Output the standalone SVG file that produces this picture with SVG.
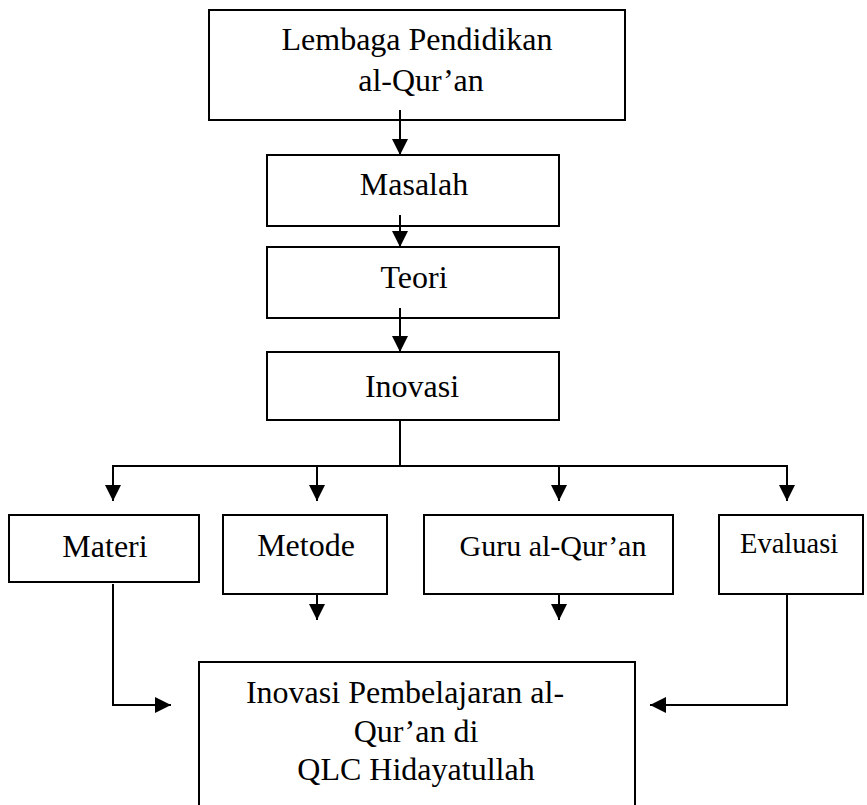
<svg xmlns="http://www.w3.org/2000/svg" width="867" height="805" viewBox="0 0 867 805">
<style>
.box{fill:#fff;stroke:#000;stroke-width:2}
.t{font-family:"Liberation Serif","Times New Roman",serif;font-size:32px;fill:#000}
.m{text-anchor:middle}
.c{fill:none;stroke:#000;stroke-width:2}
</style>
<defs>
<marker id="ah" markerUnits="userSpaceOnUse" markerWidth="16" markerHeight="16" viewBox="0 0 10 10" refX="10" refY="5" orient="auto">
<path d="M0,0 L10,5 L0,10 z" fill="#000"/>
</marker>
</defs>
<rect width="867" height="805" fill="#fff"/>
<g id="lembaga">
<rect class="box" x="209" y="10" width="416" height="110"/>
<text class="t m" x="417" y="50">Lembaga Pendidikan</text>
<text class="t m" x="421" y="91">al-Qur’an</text>
</g>
<g id="masalah">
<rect class="box" x="267" y="155" width="292" height="71"/>
<text class="t m" x="414" y="195">Masalah</text>
</g>
<g id="teori">
<rect class="box" x="267" y="247" width="292" height="71"/>
<text class="t m" x="414" y="288">Teori</text>
</g>
<g id="inovasi">
<rect class="box" x="267" y="352" width="292" height="68"/>
<text class="t m" x="412" y="397">Inovasi</text>
</g>
<g id="materi">
<rect class="box" x="9" y="515" width="190" height="67"/>
<text class="t m" x="105" y="557">Materi</text>
</g>
<g id="metode">
<rect class="box" x="223" y="515" width="164" height="79"/>
<text class="t m" x="306" y="556">Metode</text>
</g>
<g id="guru">
<rect class="box" x="424" y="515" width="249" height="79"/>
<text class="t m" x="553" y="556" style="font-size:30px">Guru al-Qur’an</text>
</g>
<g id="evaluasi">
<rect class="box" x="719" y="515" width="144" height="79"/>
<text class="t" x="740" y="553" style="font-size:28.5px">Evaluasi</text>
</g>
<g id="hasil">
<path class="c" d="M199,806 V662 H635 V806"/>
<text class="t m" x="405" y="703">Inovasi Pembelajaran al-</text>
<text class="t m" x="416" y="742">Qur’an di</text>
<text class="t m" x="416" y="780">QLC Hidayatullah</text>
</g>
<g id="connectors">
<line class="c" x1="400" y1="110" x2="400" y2="155" marker-end="url(#ah)"/>
<line class="c" x1="400" y1="215" x2="400" y2="247" marker-end="url(#ah)"/>
<line class="c" x1="400" y1="308" x2="400" y2="352" marker-end="url(#ah)"/>
<line class="c" x1="400" y1="420" x2="400" y2="466"/>
<line class="c" x1="112" y1="466" x2="788" y2="466"/>
<line class="c" x1="113" y1="466" x2="113" y2="501" marker-end="url(#ah)"/>
<line class="c" x1="317" y1="466" x2="317" y2="501" marker-end="url(#ah)"/>
<line class="c" x1="559" y1="466" x2="559" y2="501" marker-end="url(#ah)"/>
<line class="c" x1="787" y1="466" x2="787" y2="501" marker-end="url(#ah)"/>
<line class="c" x1="317" y1="594" x2="317" y2="620" marker-end="url(#ah)"/>
<line class="c" x1="559" y1="594" x2="559" y2="620" marker-end="url(#ah)"/>
<polyline class="c" points="113,584 113,705 171,705" marker-end="url(#ah)"/>
<polyline class="c" points="787,594 787,705 650,705" marker-end="url(#ah)"/>
</g>
</svg>
